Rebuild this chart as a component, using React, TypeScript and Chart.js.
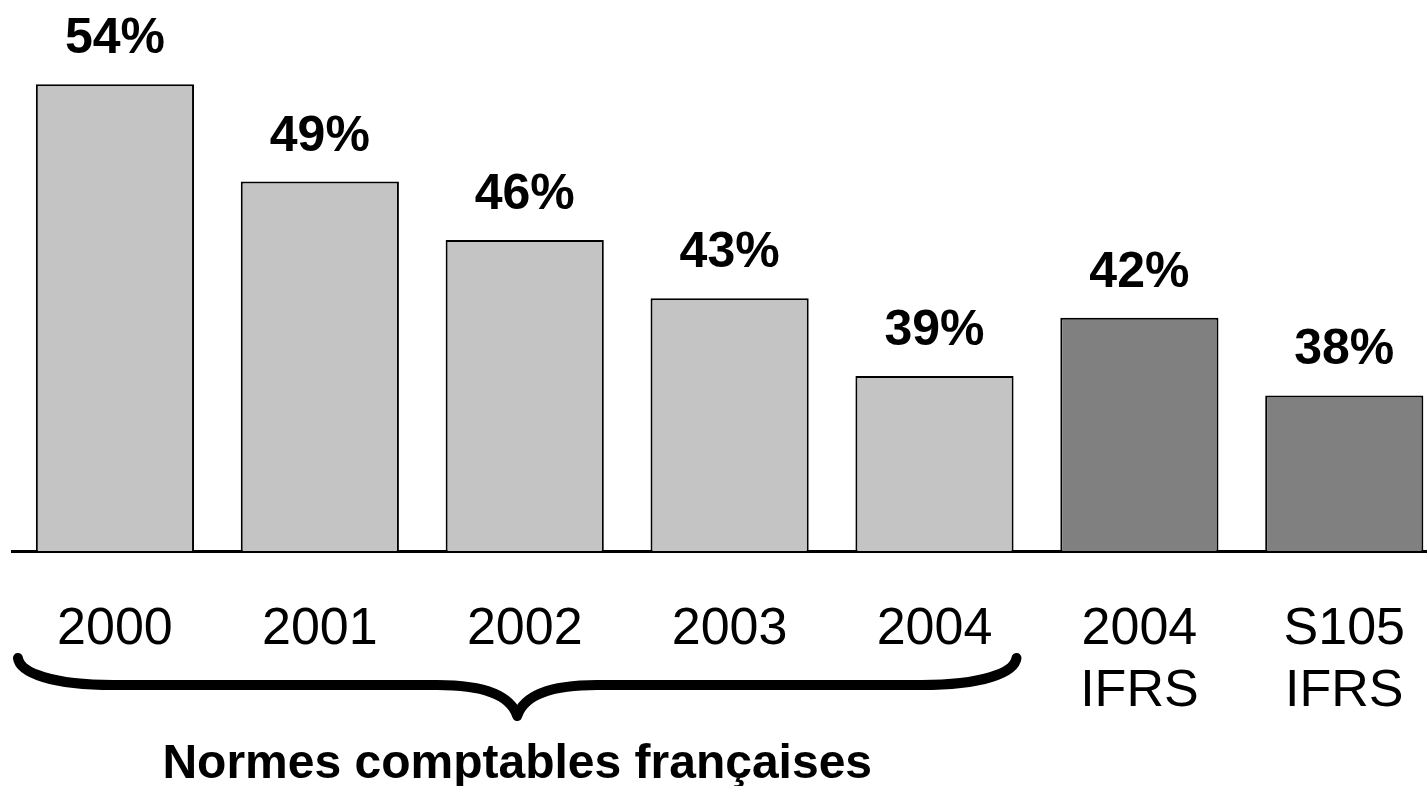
import React, { useEffect, useRef } from "react";
import { Chart, registerables } from "chart.js";

Chart.register(...registerables);

const categories: (string | string[])[] = ["2000", "2001", "2002", "2003", "2004", ["2004", "IFRS"], ["S105", "IFRS"]];
const values: number[] = [54, 49, 46, 43, 39, 42, 38];
const valueLabels: string[] = ["54%", "49%", "46%", "43%", "39%", "42%", "38%"];
const barColors: string[] = ["#c4c4c4", "#c4c4c4", "#c4c4c4", "#c4c4c4", "#c4c4c4", "#808080", "#808080"];
const braceCaption = "Normes comptables françaises";

const FONT = "'Liberation Sans', Arial, sans-serif";

const labelsPlugin = {
  id: "valueLabels",
  afterDatasetsDraw(chart: any) {
    const ctx = chart.ctx;
    const meta = chart.getDatasetMeta(0);
    ctx.save();
    ctx.fillStyle = "#000";
    ctx.font = `bold 50px ${FONT}`;
    ctx.textAlign = "center";
    ctx.textBaseline = "alphabetic";
    meta.data.forEach((bar: any, i: number) => {
      ctx.fillText(valueLabels[i], bar.x, bar.y - 31);
    });
    ctx.restore();
  },
};

const bracePlugin = {
  id: "brace",
  afterDraw(chart: any) {
    const ctx = chart.ctx;
    const x = chart.scales.x;
    const left = x.getPixelForValue(0) - 97;
    const right = x.getPixelForValue(4) + 82;
    const mid = (left + right) / 2;
    const top = 658;
    const flat = 685;
    const tip = 716;
    ctx.save();
    ctx.strokeStyle = "#000";
    ctx.lineWidth = 10;
    ctx.lineCap = "round";
    ctx.lineJoin = "round";
    ctx.beginPath();
    ctx.moveTo(left, top);
    ctx.bezierCurveTo(left + 2, flat - 12, left + 35, flat, left + 95, flat);
    ctx.lineTo(mid - 80, flat);
    ctx.bezierCurveTo(mid - 30, flat, mid - 6, flat + 12, mid, tip);
    ctx.bezierCurveTo(mid + 6, flat + 12, mid + 30, flat, mid + 80, flat);
    ctx.lineTo(right - 95, flat);
    ctx.bezierCurveTo(right - 35, flat, right - 2, flat - 12, right, top);
    ctx.stroke();

    ctx.fillStyle = "#000";
    ctx.font = `bold 48px ${FONT}`;
    ctx.textAlign = "center";
    ctx.textBaseline = "alphabetic";
    ctx.fillText(braceCaption, mid, 778);
    ctx.restore();
  },
};

export default function App() {
  const ref = useRef<HTMLCanvasElement | null>(null);

  useEffect(() => {
    document.body.style.margin = "0";
    const canvas = ref.current!;
    const chart = new Chart(canvas, {
      type: "bar",
      data: {
        labels: categories,
        datasets: [
          {
            data: values,
            backgroundColor: barColors,
            borderColor: "#000",
            borderWidth: 2,
            categoryPercentage: 1,
            barPercentage: 0.772,
          },
        ],
      },
      options: {
        responsive: false,
        animation: false,
        layout: { padding: { top: 26, left: 12.5, right: 0, bottom: 15 } },
        plugins: { legend: { display: false }, tooltip: { enabled: false } },
        scales: {
          y: { display: false, min: 30, max: 57 },
          x: {
            grid: { display: false, drawTicks: false },
            border: { display: true, color: "#000", width: 3 },
            ticks: {
              color: "#000",
              padding: 48,
              font: { family: FONT, size: 52, lineHeight: 1.192 },
              maxRotation: 0,
              autoSkip: false,
            },
          },
        },
      },
      plugins: [labelsPlugin, bracePlugin],
    });
    return () => chart.destroy();
  }, []);

  return (
    <div style={{ width: 1427, height: 786, overflow: "hidden", background: "#fff" }}>
      <canvas ref={ref} width={1453} height={786} style={{ display: "block" }} />
    </div>
  );
}
